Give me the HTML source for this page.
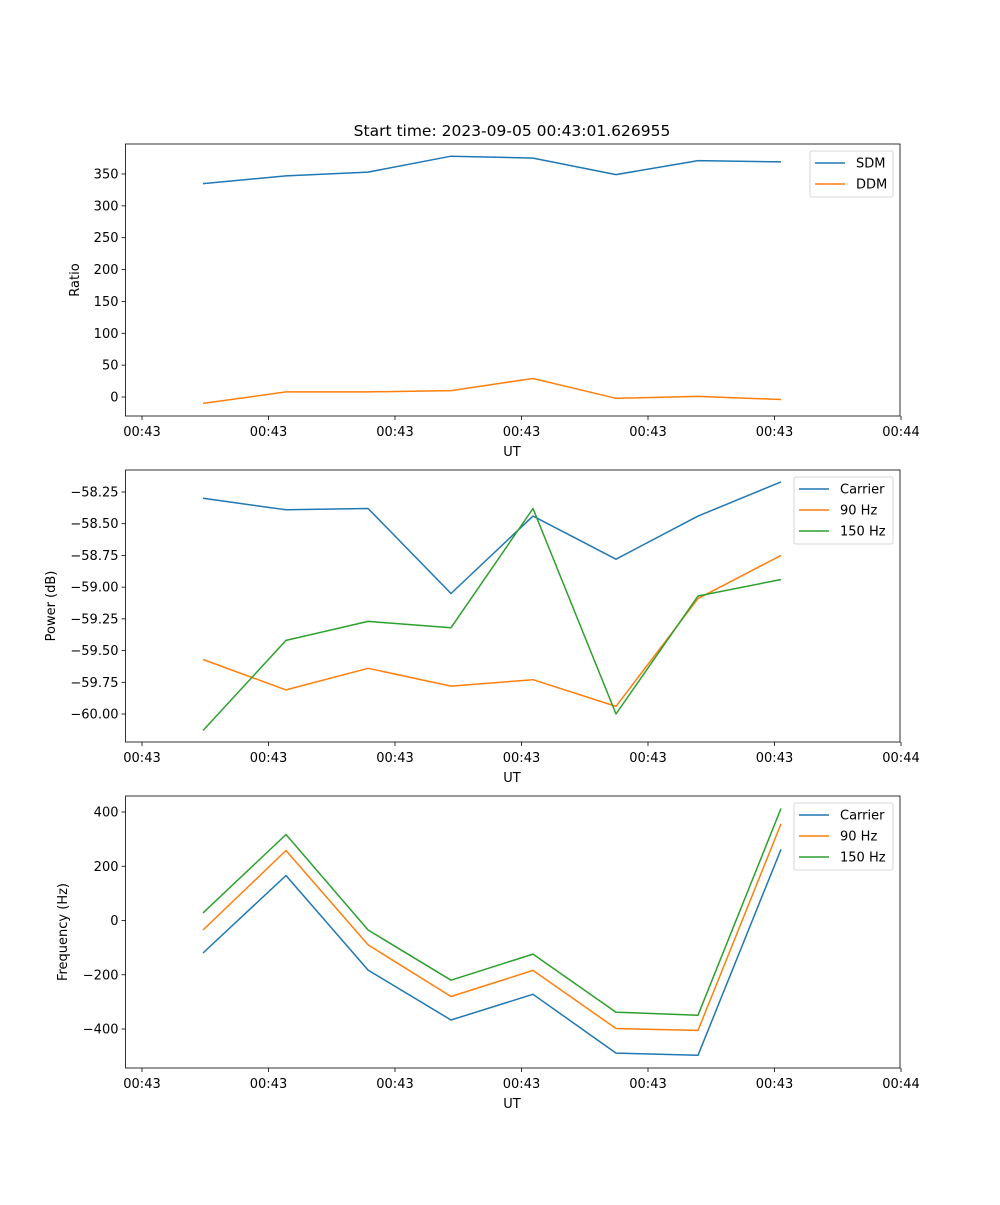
<!DOCTYPE html>
<html><head><meta charset="utf-8"><style>
body{margin:0;background:#fff}
svg text{font-family:"DejaVu Sans","Liberation Sans",sans-serif;font-size:13px;fill:#000}
</style></head><body>
<svg id="fig" width="1000" height="1200" viewBox="0 0 1000 1200" xmlns="http://www.w3.org/2000/svg">
<rect width="1000" height="1200" fill="#fff"/>
<text x="512" y="136" text-anchor="middle" style="font-size:15.5px">Start time: 2023-09-05 00:43:01.626955</text>
</svg>
<script>
const times=[4.82,11.38,17.87,24.43,30.91,37.47,43.95,50.51];
const xTicks=[0,10,20,30,40,50,60];
const xTickLabels=["00:43","00:43","00:43","00:43","00:43","00:43","00:44"];
const sdm=[335,347,353,378,375,349,371,369];
const ddm=[-10,8,8,10,29,-2,1,-4];
const ratioTicks=[0,50,100,150,200,250,300,350];
const pCarrier=[-58.30,-58.39,-58.38,-59.05,-58.44,-58.78,-58.44,-58.17];
const p90=[-59.57,-59.81,-59.64,-59.78,-59.73,-59.94,-59.09,-58.75];
const p150=[-60.13,-59.42,-59.27,-59.32,-58.38,-60.00,-59.07,-58.94];
const powerTicks=[-60.00,-59.75,-59.50,-59.25,-59.00,-58.75,-58.50,-58.25];
const fCarrier=[-120,166,-183,-367,-272,-489,-497,262];
const f90=[-35,258,-90,-280,-184,-398,-405,356];
const f150=[28,317,-35,-220,-124,-338,-349,413];
const freqTicks=[-400,-200,0,200,400];

const NS="http://www.w3.org/2000/svg";
const svg=document.getElementById('fig');
function el(t,a,txt){const e=document.createElementNS(NS,t);for(const k in a)e.setAttribute(k,a[k]);if(txt!==undefined)e.textContent=txt;svg.appendChild(e);return e;}
const L=125.5,R=900;
function xs(t){return 142+t*12.65;}
function panel(top,bot,yv0,yp0,yv1,yp1,ticks,fmt,ylabel,ylx,series,leg,name){
  const ys=v=>yp0+(v-yv0)*(yp1-yp0)/(yv1-yv0);
  xTicks.forEach((t,i)=>{const x=xs(t);
    const tk=el('line',{x1:x,x2:x,y1:bot,y2:bot+4,stroke:'#000','stroke-width':0.8});
    
    
    const lb=el('text',{x:x,y:bot+20,'text-anchor':'middle'},xTickLabels[i]);
    
    
  });
  const xl=el('text',{x:512,y:bot+40,'text-anchor':'middle'},'UT');
  
  
  ticks.forEach(v=>{const y=ys(v);
    const tk=el('line',{x1:L-4,x2:L,y1:y,y2:y,stroke:'#000','stroke-width':0.8});
    
    
    const lb=el('text',{x:L-7,y:y+4.5,'text-anchor':'end'},fmt(v));
    
    
  });
  const cy=(top+bot)/2;
  const yl=el('text',{x:ylx,y:cy,'text-anchor':'middle',transform:`rotate(-90 ${ylx} ${cy})`},ylabel);
  
  
  series.forEach(s=>{
    const pts=s.v.map((v,i)=>xs(times[i]).toFixed(1)+','+ys(v).toFixed(1)).join(' ');
    const p=el('polyline',{points:pts,fill:'none',stroke:s.c,'stroke-width':1.5,'stroke-linejoin':'round'});
    
    
  });
  const fr=el('rect',{x:L,y:top,width:R-L,height:bot-top,fill:'none',stroke:'#000','stroke-width':0.8});
  
  
  const lh=series.length*21+4;
  const lg=el('rect',{x:leg,y:top+7,width:893-leg,height:lh,rx:2,fill:'#fff','fill-opacity':0.8,stroke:'#ccc','stroke-width':0.8});
  
  
  series.forEach((s,i)=>{const y=top+19+i*21;
    const ln=el('line',{x1:leg+5,x2:leg+35,y1:y,y2:y,stroke:s.c,'stroke-width':1.5});
    
    
    const t=el('text',{x:leg+46,y:y+4.5},s.label);
    
    
  });
}
const B='#1f77b4',O='#ff7f0e',G='#2ca02c';
panel(144,416,0,397,350,174,ratioTicks,v=>String(v),'Ratio',79,
 [{v:sdm,c:B,n:'sdm-line',label:'SDM'},{v:ddm,c:O,n:'ddm-line',label:'DDM'}],810,'ratio-panel');
panel(470,742,-58.25,492,-60.00,714,powerTicks,v=>'\u2212'+Math.abs(v).toFixed(2),'Power (dB)',55,
 [{v:pCarrier,c:B,n:'power-carrier-line',label:'Carrier'},{v:p90,c:O,n:'power-90hz-line',label:'90 Hz'},{v:p150,c:G,n:'power-150hz-line',label:'150 Hz'}],794,'power-panel');
panel(796,1068,400,812,-400,1029,freqTicks,v=>(v<0?'\u2212':'')+Math.abs(v),'Frequency (Hz)',67,
 [{v:fCarrier,c:B,n:'freq-carrier-line',label:'Carrier'},{v:f90,c:O,n:'freq-90hz-line',label:'90 Hz'},{v:f150,c:G,n:'freq-150hz-line',label:'150 Hz'}],794,'frequency-panel');
</script>
</body></html>
